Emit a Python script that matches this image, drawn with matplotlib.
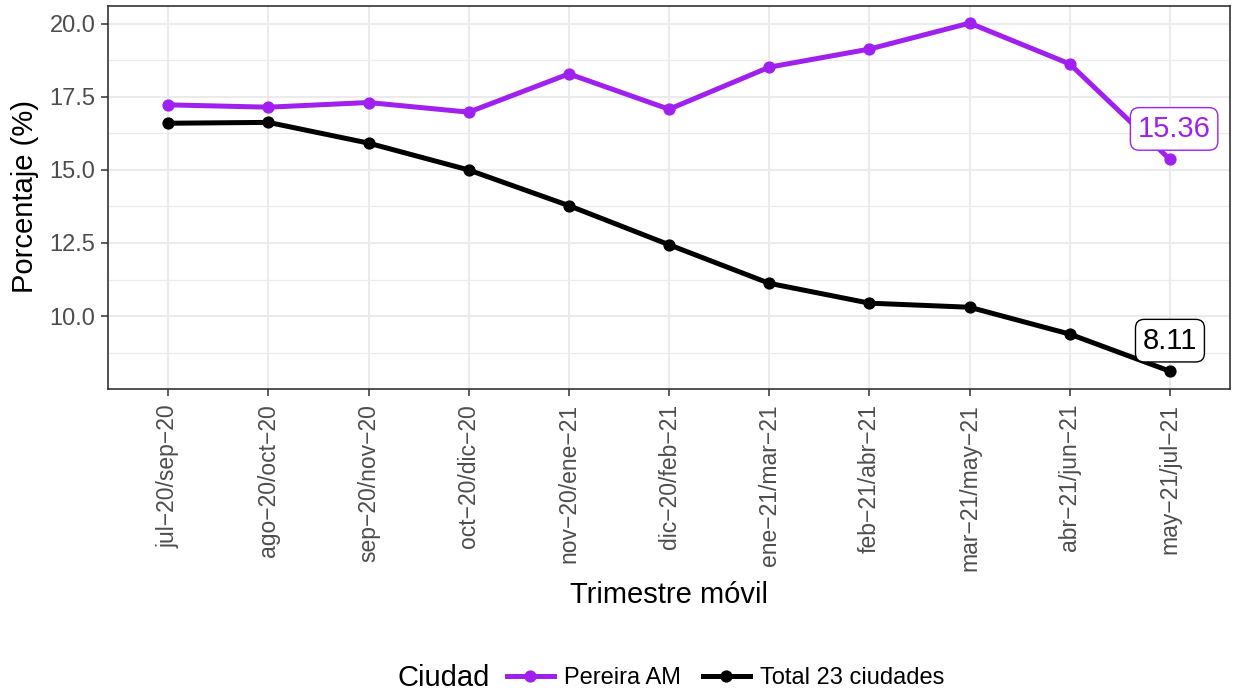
import numpy as np
import matplotlib.pyplot as plt
from matplotlib.lines import Line2D

plt.rcParams['font.family'] = ['Liberation Sans', 'DejaVu Sans']

periodos = ["jul−20/sep−20", "ago−20/oct−20", "sep−20/nov−20", "oct−20/dic−20",
            "nov−20/ene−21", "dic−20/feb−21", "ene−21/mar−21", "feb−21/abr−21",
            "mar−21/may−21", "abr−21/jun−21", "may−21/jul−21"]
pereira = [17.23, 17.15, 17.31, 16.98, 18.29, 17.08, 18.52, 19.14, 20.03, 18.63, 15.36]
total = [16.60, 16.63, 15.92, 15.00, 13.78, 12.44, 11.12, 10.44, 10.30, 9.38, 8.11]

PURPLE = "#A020F0"
GRID = "#EBEBEB"
LW, MS = 3.6, 7.8

fig = plt.figure(figsize=(12.36, 6.91), dpi=100)
ax = fig.add_axes([0.0874, 0.4376, 0.9078, 0.5542])

x = np.arange(len(periodos))
ax.plot(x, pereira, color=PURPLE, lw=LW, marker="o", ms=MS, zorder=3)
ax.plot(x, total, color="black", lw=LW, marker="o", ms=MS, zorder=3)

# etiquetas del ultimo punto
box = dict(boxstyle="round,pad=0.25,rounding_size=0.3", fc="white", lw=1)
ax.annotate(f"{pereira[-1]:.2f}", (x[-1], pereira[-1]), xytext=(3, 22),
            textcoords="offset points", ha="center", va="center", fontsize=21,
            color=PURPLE, bbox={**box, "ec": PURPLE}, zorder=4)
ax.annotate(f"{total[-1]:.2f}", (x[-1], total[-1]), xytext=(0, 22),
            textcoords="offset points", ha="center", va="center", fontsize=21,
            color="black", bbox={**box, "ec": "black"}, zorder=4)

# expansion como ggplot: 0.6 discreto, 5% continuo
rng = max(pereira + total) - min(pereira + total)
ax.set_xlim(-0.6, len(periodos) - 0.4)
ax.set_ylim(min(pereira + total) - 0.05 * rng, max(pereira + total) + 0.05 * rng)
ax.set_xticks(x)
ax.set_xticklabels(periodos, rotation=90, fontsize=16.5, color="#4D4D4D")
ax.set_yticks([10.0, 12.5, 15.0, 17.5, 20.0])
ax.set_yticklabels(["10.0", "12.5", "15.0", "17.5", "20.0"], fontsize=17, color="#4D4D4D")
ax.set_yticks([8.75, 11.25, 13.75, 16.25, 18.75], minor=True)
ax.tick_params(axis="both", which="major", length=5, width=1.1, color="#333333", pad=4)
ax.tick_params(axis="x", which="major", pad=6)
ax.tick_params(axis="y", which="minor", length=0)
ax.grid(which="major", color=GRID, lw=1.5, zorder=0)
ax.grid(which="minor", axis="y", color=GRID, lw=0.9, zorder=0)
ax.set_axisbelow(True)
for s in ax.spines.values():
    s.set_color("#333333")
    s.set_linewidth(1.2)

fig.text(0.0202, 0.715, "Porcentaje (%)", fontsize=21, rotation=90,
         ha="center", va="center")
fig.text(0.541, 0.139, "Trimestre móvil", fontsize=21, ha="center", va="center")

handles = [Line2D([], [], color=PURPLE, lw=LW, marker="o", ms=MS),
           Line2D([], [], color="black", lw=LW, marker="o", ms=MS)]
fig.text(0.322, 0.019, "Ciudad", fontsize=21, va="center", ha="left")
fig.legend(handles, ["Pereira AM", "Total 23 ciudades"], loc="center",
           bbox_to_anchor=(0.587, 0.019), ncol=2, frameon=False, fontsize=17,
           handlelength=2.0, columnspacing=0.93, handletextpad=0.42)

fig.savefig("out.png", dpi=100)
